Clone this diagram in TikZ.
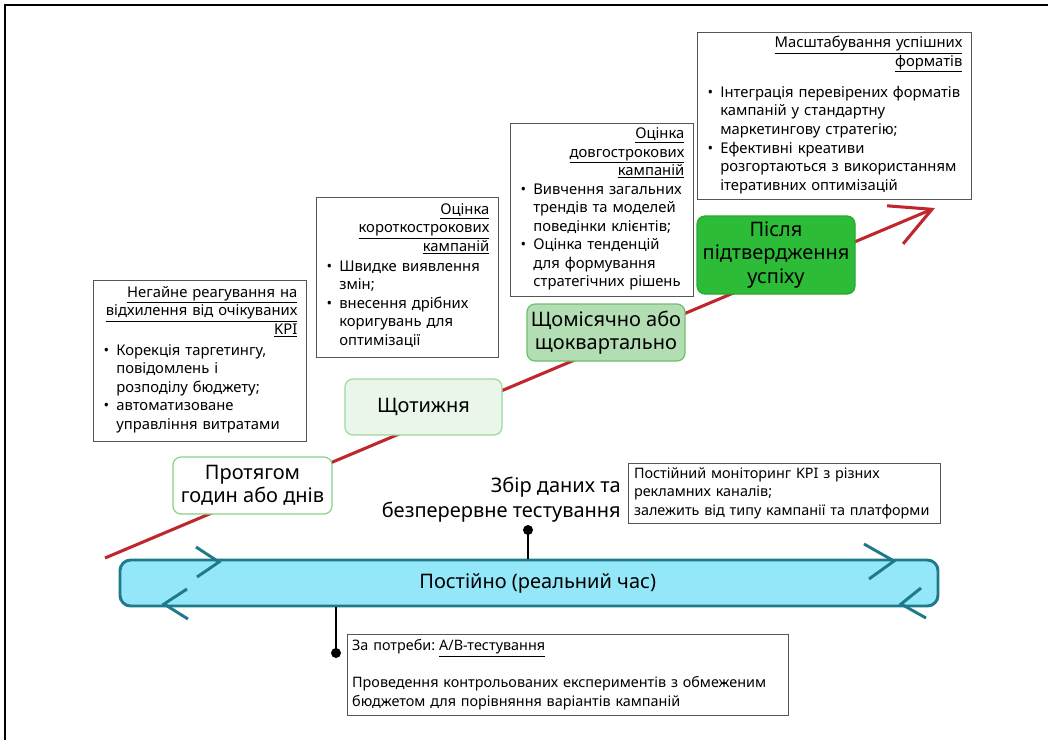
\documentclass[tikz,border=0pt]{standalone}
\usepackage{fontspec}
\setmainfont{Noto Sans}
\usetikzlibrary{arrows.meta}
\definecolor{redline}{HTML}{C0272D}
\definecolor{boxgray}{HTML}{555555}
\definecolor{barteal}{HTML}{1E7A8A}
\definecolor{barfill}{HTML}{93E7F8}
\definecolor{gAline}{HTML}{86D286}
\definecolor{gBfill}{HTML}{EAF6EA}
\definecolor{gBline}{HTML}{9DD89D}
\definecolor{gCfill}{HTML}{B3DDB3}
\definecolor{gCline}{HTML}{6CC06C}
\definecolor{gDfill}{HTML}{2DBC37}
\definecolor{gDline}{HTML}{27A82F}
\newcommand{\blist}[1]{\begin{tabular}[t]{@{}p{11pt}@{}l@{}}#1\end{tabular}}
\newcommand{\bl}{\hspace{1.5pt}•}
\begin{document}
\begin{tikzpicture}[x=0.75pt,y=-0.75pt,
  infobox/.style={draw=boxgray, line width=0.7pt, fill=white, inner xsep=6.5pt, inner ysep=3pt,
    font={\fontsize{11.1}{13.9}\selectfont}},
  plainbox/.style={infobox, align=left, font={\fontsize{10.8}{13.9}\selectfont}},
  timenode/.style={rounded corners=6pt, line width=0.9pt, align=center,
    font={\fontsize{15}{17.5}\selectfont}, inner sep=2pt},
  chev/.style={draw=barteal, line width=2.2pt},
  pin/.style={draw=black, line width=2.2pt},
  pindot/.style={fill=black, circle, inner sep=0pt, minimum size=7.5pt}]
\useasboundingbox (0,0) rectangle (1048,740);
% frame
\draw[line width=1.5pt] (1048,5) -- (5,5) -- (5,740);
% red arrow
\coordinate (rs) at (105,558);
\coordinate (re) at (935,208);
\draw[redline, line width=2.3pt, -{Straight Barb[length=30pt,width=31pt,line width=2.3pt]}] (rs) -- (re);
% time nodes
\node[timenode, draw=gAline, fill=white, minimum width=119.25pt, minimum height=42.75pt] (n1) at (252.5,485.5) {Протягом\\годин або днів};
\node[timenode, draw=gBline, fill=gBfill, minimum width=117.75pt, minimum height=42pt] (n2) at (423.5,407) {Щотижня};
\node[timenode, draw=gCline, fill=gCfill, minimum width=118.5pt, minimum height=42.75pt] (n3) at (606,332.5) {Щомісячно або\\щоквартально};
\node[timenode, draw=gDline, fill=gDfill, minimum width=118.5pt, minimum height=58.5pt] (n4) at (776,255) {Після\\підтвердження\\успіху};
% info boxes
\node[infobox, minimum width=159.75pt, minimum height=120.75pt, text width=146.75pt] (bA) at (199.5,360.5)
 {\raggedleft\underline{Негайне реагування на}\\\underline{відхилення від очікуваних}\\\underline{KPI}\par\vspace{2pt}\raggedright\noindent
  \blist{\bl & Корекція таргетингу,\\ & повідомлень і\\ & розподілу бюджету;\\ \bl & автоматизоване\\ & управління витратами}};
\node[infobox, minimum width=136.5pt, minimum height=120pt, text width=123.5pt] (bB) at (407,277)
 {\raggedleft\underline{Оцінка}\\\underline{короткострокових}\\\underline{кампаній}\par\vspace{1pt}\raggedright\noindent
  \blist{\bl & Швидке виявлення\\ & змін;\\ \bl & внесення дрібних\\ & коригувань для\\ & оптимізації}};
\node[infobox, minimum width=137.25pt, minimum height=129pt, text width=124.25pt] (bC) at (601.5,210)
 {\raggedleft\underline{Оцінка}\\\underline{довгострокових}\\\underline{кампаній}\par\vspace{0pt}\raggedright\noindent
  \blist{\bl & Вивчення загальних\\ & трендів та моделей\\ & поведінки клієнтів;\\ \bl & Оцінка тенденцій\\ & для формування\\ & стратегічних рішень}};
\node[infobox, minimum width=205.5pt, minimum height=124.5pt, text width=192.5pt] (bD) at (834,116)
 {\raggedleft\underline{Масштабування успішних}\\\underline{форматів}\par\vspace{8pt}\raggedright\noindent
  \blist{\bl & Інтеграція перевірених форматів\\ & кампаній у стандартну\\ & маркетингову стратегію;\\ \bl & Ефективні креативи\\ & розгортаються з використанням\\ & ітеративних оптимізацій}};
\node[plainbox, minimum height=45pt, text width=225pt, inner xsep=4.5pt] (bE) at (784,493)
 {\mbox{Постійний моніторинг KPI з різних}\\\mbox{рекламних каналів;}\\\mbox{залежить від типу кампанії та платформи}};
\node[plainbox, minimum height=60.75pt, text width=323pt, inner xsep=3.875pt] (bF) at (567.5,674.5)
 {\mbox{За потреби:\hspace{3pt}\underline{A/B-тестування}}\\[13.9pt]\mbox{Проведення контрольованих експериментів з обмеженим}\\\mbox{бюджетом для порівняння варіантів кампаній}};
% label
\node[align=right, anchor=east, font={\fontsize{15}{18.7}\selectfont}, inner sep=0pt] (lbl) at (621,499.5) {Збір даних та\\безперервне тестування};
% bar
\node[draw=barteal, fill=barfill, line width=2.2pt, rounded corners=8pt, minimum width=613.5pt, minimum height=34.5pt,
  font={\fontsize{15}{17}\selectfont}] (bar) at (529,583) {\hspace*{13pt}Постійно (реальний час)};
% pins
\node[pindot] (d1) at (528,530) {};
\draw[pin] (d1.center) -- (d1.center |- bar.north);
\node[pindot] (d2) at (336,653) {};
\draw[pin] (d2.center) -- (d2.center |- bar.south);
% chevrons
\draw[chev] (196,547) -- (219,562) -- (197,577);
\draw[chev] (187,589) -- (164,604) -- (188,619);
\draw[chev] (864,544) -- (894,561) -- (869,579);
\draw[chev] (921,588) -- (901,604) -- (926,618);
\end{tikzpicture}
\end{document}
